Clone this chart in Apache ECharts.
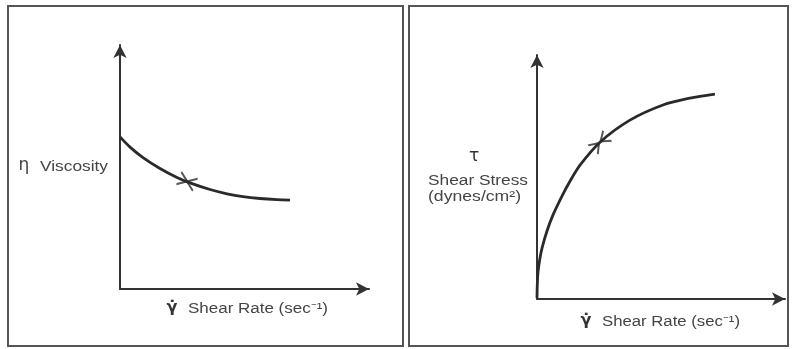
<!DOCTYPE html>
<html>
<head>
<meta charset="utf-8">
<script src="https://cdn.jsdelivr.net/npm/echarts@6/dist/echarts.min.js"></script>
<style>
html,body{margin:0;padding:0;background:#fff;}
#c{width:792px;height:349px;}
</style>
</head>
<body>
<div id="c"></div>
<script>
// Left panel: viscosity vs shear rate (relative units)
const viscShearRate = [0, 4.14, 9.51, 16.55, 23.58, 28.96, 37.24, 44.26, 50.88, 57.91, 64.95, 70.33];
const viscosity     = [64.2, 59.9, 55.5, 50.9, 47.1, 44.8, 42.0, 40.2, 39.0, 38.2, 37.7, 37.5];
// Right panel: shear stress vs shear rate
const stressShearRate = [0, 0.12, 0.42, 1.25, 2.08, 4.15, 6.65, 10.8, 13.7, 17.86, 26.16, 38.6, 52.3, 63.5, 73.9];
const shearStress     = [0.4, 5.9, 11.4, 17.3, 21.5, 28.7, 35.5, 44.3, 49.7, 56.5, 66.2, 75.5, 81.9, 84.8, 86.5];
// Direction chevrons on the curves: [x, y, angle°]
const viscArrows   = [[26.1, 46.1, -22], [29.4, 44.7, 158]];
const stressArrows = [[24.5, 64.4, 48], [27.8, 67.7, 220]];
// Texts
const leftYLabel = 'Viscosity';
const leftYSymbol = 'η';
const xLabel = 'Shear Rate (sec⁻¹)';
const gammaDot = 'γ̇';
const rightYSymbol = 'τ';
const rightYLabel1 = 'Shear Stress';
const rightYLabel2 = '(dynes/cm²)';

const chart = echarts.init(document.getElementById('c'), null, {renderer: 'canvas'});
const ctx = document.createElement('canvas').getContext('2d');
const BASE_FONT = '14px "Liberation Sans", Arial, sans-serif';
function fitScale(text, target) {
  ctx.font = BASE_FONT;
  return target / ctx.measureText(text).width;
}
function label(text, x, y, targetW, align) {
  return {
    type: 'text', x: x, y: y, scaleX: fitScale(text, targetW), z: 10,
    style: {text: text, font: BASE_FONT, fill: '#444', align: align || 'left', verticalAlign: 'middle'}
  };
}
const axisLine = {
  show: true, onZero: false, symbol: ['none', 'arrow'], symbolSize: [10, 13],
  lineStyle: {color: '#333', width: 2}
};
function axis(gi) {
  return {type: 'value', gridIndex: gi, min: 0, max: 103, axisLine: axisLine,
    axisTick: {show: false}, axisLabel: {show: false}, splitLine: {show: false}};
}
const chevron = 'path://M0,0L10,5L0,10';
function arrowData(arr) {
  return arr.map(a => ({value: [a[0], a[1]], symbolRotate: a[2]}));
}
const option = {
  animation: false,
  backgroundColor: '#fff',
  grid: [
    {left: 120, top: 45, width: 249, height: 244},
    {left: 537, top: 55, width: 248, height: 244}
  ],
  xAxis: [axis(0), axis(1)],
  yAxis: [axis(0), axis(1)],
  series: [
    {type: 'line', xAxisIndex: 0, yAxisIndex: 0, smooth: 0.3, showSymbol: false,
     lineStyle: {color: '#2a2a2a', width: 2.8},
     data: viscShearRate.map((x, i) => [x, viscosity[i]])},
    {type: 'line', xAxisIndex: 1, yAxisIndex: 1, smooth: 0.3, showSymbol: false,
     lineStyle: {color: '#2a2a2a', width: 2.8},
     data: stressShearRate.map((x, i) => [x, shearStress[i]])},
    {type: 'scatter', xAxisIndex: 0, yAxisIndex: 0, symbol: chevron, symbolSize: [9, 13],
     itemStyle: {color: 'rgba(0,0,0,0)', borderColor: '#2a2a2a', borderWidth: 1.8},
     data: arrowData(viscArrows)},
    {type: 'scatter', xAxisIndex: 1, yAxisIndex: 1, symbol: chevron, symbolSize: [9, 13],
     itemStyle: {color: 'rgba(0,0,0,0)', borderColor: '#2a2a2a', borderWidth: 1.8},
     data: arrowData(stressArrows)}
  ],
  graphic: [
    {type: 'rect', shape: {x: 8, y: 6, width: 395, height: 340}, style: {fill: 'none', stroke: '#555', lineWidth: 2}},
    {type: 'rect', shape: {x: 409, y: 6, width: 379, height: 340}, style: {fill: 'none', stroke: '#555', lineWidth: 2}},
    {type: 'text', x: 24, y: 166, style: {text: leftYSymbol, font: '17px "DejaVu Sans", sans-serif', fill: '#444', align: 'center', verticalAlign: 'middle'}},
    label(leftYLabel, 40, 167, 68),
    {type: 'text', x: 172, y: 308, style: {text: gammaDot, font: 'bold 16px "DejaVu Sans", sans-serif', fill: '#333', align: 'center', verticalAlign: 'middle'}},
    label(xLabel, 188, 309, 140),
    {type: 'text', x: 474, y: 157, style: {text: rightYSymbol, font: '17px "DejaVu Sans", sans-serif', fill: '#333', align: 'center', verticalAlign: 'middle'}},
    label(rightYLabel1, 428, 181, 100),
    label(rightYLabel2, 428, 197, 93),
    {type: 'text', x: 586, y: 321, style: {text: gammaDot, font: 'bold 16px "DejaVu Sans", sans-serif', fill: '#333', align: 'center', verticalAlign: 'middle'}},
    label(xLabel, 602, 322, 138)
  ]
};
chart.setOption(option);
</script>
</body>
</html>
